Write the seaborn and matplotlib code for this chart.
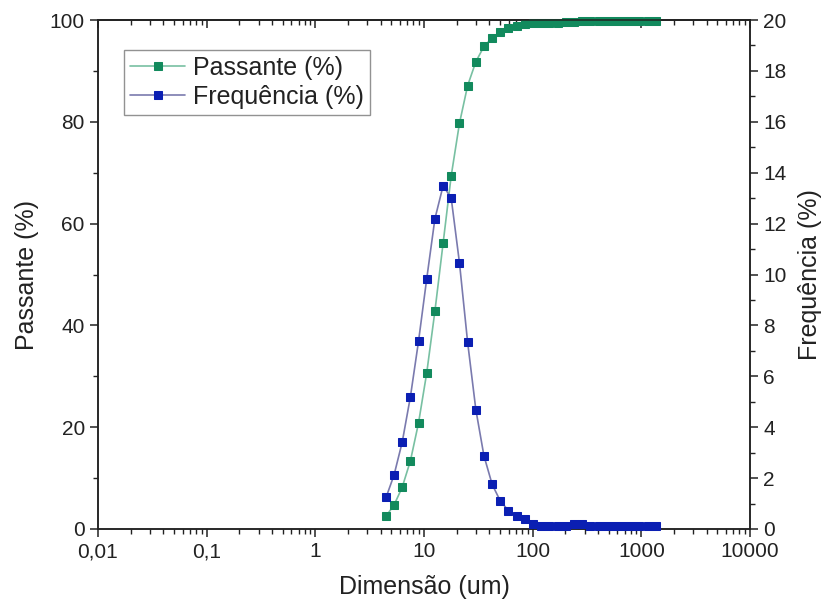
import matplotlib
matplotlib.use("Agg")
import matplotlib.pyplot as plt
from matplotlib.ticker import FixedLocator, FixedFormatter, MultipleLocator, LogLocator, NullFormatter
import seaborn as sns
import pandas as pd

# Particle size classes (um)
dimensao = [4.5, 5.3, 6.3, 7.5, 8.9, 10.6, 12.6, 15.0, 17.8, 21.2, 25.2, 30.0,
            35.6, 42.4, 50.4, 59.9, 71.3, 84.8, 100.8, 119.9, 142.6, 169.6,
            201.7, 239.9, 285.3, 339.3, 403.5, 479.8, 570.6, 678.6, 807.0,
            959.7, 1141.3, 1357.2]

# Cumulative passing (%)
passante = [2.6, 4.7, 8.2, 13.4, 20.8, 30.7, 42.8, 56.2, 69.4, 79.7, 87.1, 91.8,
            94.8, 96.5, 97.7, 98.4, 98.9, 99.2, 99.4, 99.5, 99.5, 99.5,
            99.6, 99.7, 99.8, 99.8, 99.8, 99.8, 99.8, 99.8, 99.8,
            99.9, 99.9, 99.9]

# Frequency per class (%)
frequencia = [1.27, 2.12, 3.41, 5.20, 7.37, 9.84, 12.19, 13.49, 13.0, 10.46, 7.34, 4.69,
              2.88, 1.75, 1.10, 0.72, 0.51, 0.39, 0.2, 0.12, 0.12, 0.12,
              0.12, 0.2, 0.2, 0.12, 0.12, 0.12, 0.12, 0.12, 0.12,
              0.12, 0.12, 0.12]

x_ticks = [0.01, 0.1, 1, 10, 100, 1000, 10000]
x_tick_labels = ["0,01", "0,1", "1", "10", "100", "1000", "10000"]

df = pd.DataFrame({"dim": dimensao, "pass": passante, "freq": frequencia})

sns.set_style("ticks")
plt.rcParams["font.family"] = ["Liberation Sans", "DejaVu Sans"]
plt.rcParams["axes.linewidth"] = 1.1

fig = plt.figure(figsize=(8.21, 6.05), dpi=100)
ax = fig.add_axes([98 / 821, 76 / 605, 652 / 821, 509 / 605])
ax2 = ax.twinx()

green_mk = "#128a5d"
green_ln = "#78c0a2"
blue_mk = "#0b1fb3"
blue_ln = "#7a7aae"

sns.lineplot(data=df, x="dim", y="pass", ax=ax, color=green_ln, lw=1.2,
             marker="s", markersize=6, markerfacecolor=green_mk,
             markeredgecolor=green_mk, label="Passante (%)", legend=False,
             clip_on=False, zorder=3)
sns.lineplot(data=df, x="dim", y="freq", ax=ax2, color=blue_ln, lw=1.2,
             marker="s", markersize=6, markerfacecolor=blue_mk,
             markeredgecolor=blue_mk, label="Frequência (%)", legend=False,
             clip_on=False, zorder=3)

ax.set_xscale("log")
ax.set_xlim(0.01, 10000)
ax.set_ylim(0, 100)
ax2.set_ylim(0, 20)

ax.xaxis.set_major_locator(FixedLocator(x_ticks))
ax.xaxis.set_major_formatter(FixedFormatter(x_tick_labels))
ax.xaxis.set_minor_locator(LogLocator(base=10, subs=range(2, 10), numticks=20))
ax.xaxis.set_minor_formatter(NullFormatter())

ax.yaxis.set_major_locator(MultipleLocator(20))
ax.yaxis.set_minor_locator(MultipleLocator(10))
ax2.yaxis.set_major_locator(MultipleLocator(2))
ax2.yaxis.set_minor_locator(MultipleLocator(1))

fs = 15
lfs = 18
for a in (ax, ax2):
    a.tick_params(which="major", direction="out", length=6, width=1.1,
                  labelsize=fs, color="#222222", labelcolor="#222222")
    a.tick_params(which="minor", direction="out", length=3.5, width=1.0,
                  color="#222222")
    for s in a.spines.values():
        s.set_visible(True)
        s.set_color("#222222")
        s.set_linewidth(1.1)

# top axis with inward ticks and no labels
top = ax.secondary_xaxis("top")
top.xaxis.set_major_locator(FixedLocator(x_ticks))
top.xaxis.set_minor_locator(LogLocator(base=10, subs=range(2, 10), numticks=20))
top.xaxis.set_minor_formatter(NullFormatter())
top.tick_params(which="major", direction="in", length=6, width=1.1,
                labeltop=False, color="#222222")
top.tick_params(which="minor", direction="in", length=3.5, width=1.0,
                color="#222222")
top.spines["top"].set_linewidth(1.1)
top.spines["top"].set_color("#222222")

ax.set_xlabel("Dimensão (um)", fontsize=lfs, color="#222222", labelpad=10)
ax.set_ylabel("Passante (%)", fontsize=lfs, color="#222222", labelpad=8)
ax2.set_ylabel("Frequência (%)", fontsize=lfs, color="#222222", labelpad=8)

h1, l1 = ax.get_lines()[0], "Passante (%)"
h2, l2 = ax2.get_lines()[0], "Frequência (%)"
leg = ax2.legend([h1, h2], [l1, l2], loc="upper left",
                 bbox_to_anchor=(0.04, 0.942), fontsize=lfs,
                 frameon=True, fancybox=False, edgecolor="#777777",
                 handlelength=2.2, handletextpad=0.3, borderpad=0.25,
                 labelspacing=0.2, borderaxespad=0)
leg.get_frame().set_linewidth(1.0)
for t in leg.get_texts():
    t.set_color("#222222")

fig.savefig("out.png", dpi=100)
